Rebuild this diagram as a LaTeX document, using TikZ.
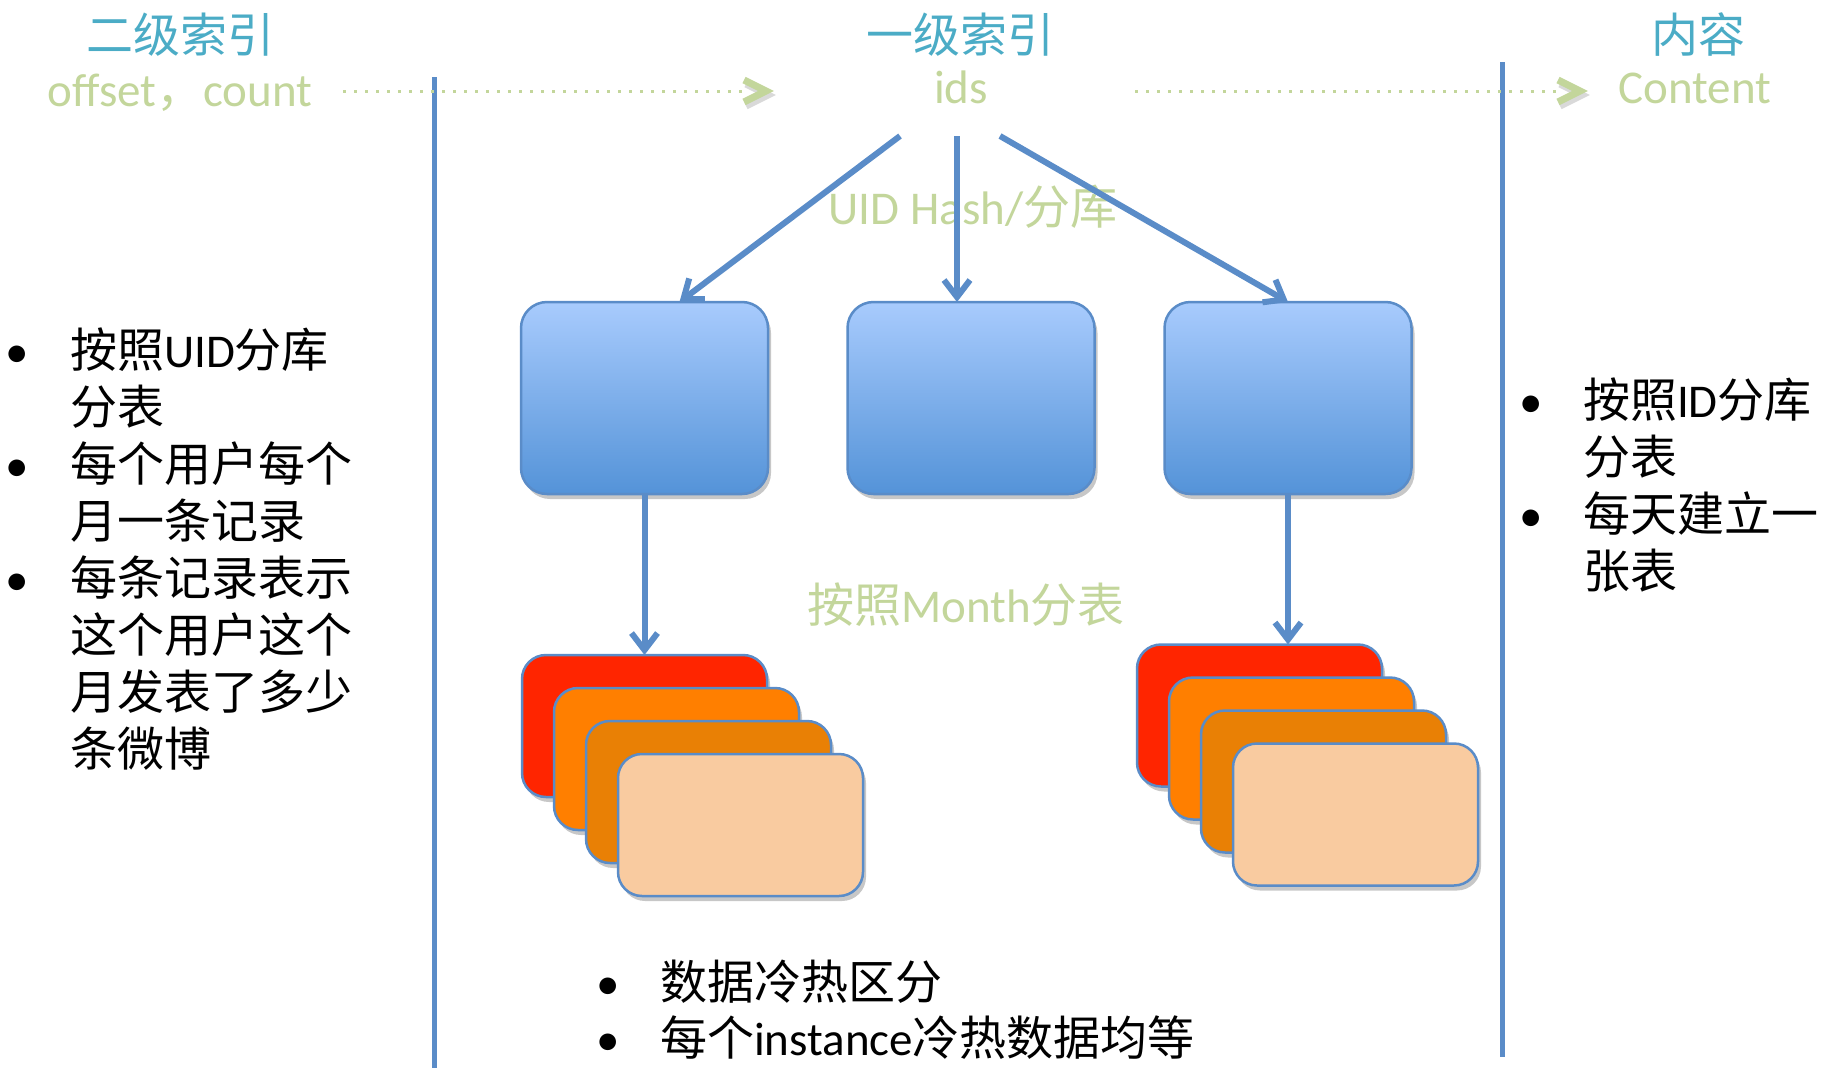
\documentclass[tikz,border=0pt]{standalone}
\usepackage{fontspec}
\setmainfont{Carlito}
\newfontfamily\cjk{Noto Sans CJK SC}
\usetikzlibrary{arrows.meta,shadows,calc}

\definecolor{titlecyan}{HTML}{4BACC6}
\definecolor{labelgreen}{HTML}{C3D69B}
\definecolor{linkblue}{HTML}{5A8CC8}
\definecolor{boxtop}{HTML}{A8CBFD}
\definecolor{boxbottom}{HTML}{5493D8}
\definecolor{hotred}{HTML}{FF2500}
\definecolor{warmorange}{HTML}{FF7F00}
\definecolor{deeporange}{HTML}{E98005}
\definecolor{peach}{HTML}{F9CBA0}

\newcommand{\zh}[1]{{\cjk #1}}

\begin{document}
\begin{tikzpicture}[x=1pt,y=-1pt,
  every node/.style={inner sep=0pt, outer sep=0pt, font=\fontsize{47pt}{57pt}\selectfont},
  title/.style={text=titlecyan, anchor=base},
  keyword/.style={text=labelgreen, anchor=base},
  bodyline/.style={text=black, anchor=base west},
  dotmark/.style={text=black, anchor=base},
  softshadow/.style={drop shadow={shadow xshift=3pt, shadow yshift=-5pt, opacity=0.22, fill=black}},
  shardbox/.style={rectangle, rounded corners=26pt, draw=linkblue, line width=2.5pt,
    top color=boxtop, bottom color=boxbottom, minimum width=247pt, minimum height=192pt, softshadow},
  monthbox/.style={rectangle, rounded corners=24pt, draw=linkblue, line width=2.5pt,
    minimum width=245pt, minimum height=142pt, softshadow},
  link/.style={draw=linkblue, line width=6pt, -{Straight Barb[length=17pt,width=26pt]}},
  hint/.style={draw=labelgreen, line width=3pt, dash pattern=on 3pt off 8pt},
  chevron/.style={draw=labelgreen, line width=7pt},
  chevronshade/.style={draw=black, opacity=0.15, line width=7pt},
  divider/.style={draw=linkblue, line width=5pt}
]
\useasboundingbox (0,0) rectangle (1825,1068);
\fill[white] (0,0) rectangle (1825,1068);

% column dividers
\draw[divider] (434,77) -- (434,1068);
\draw[divider] (1502,62) -- (1502,1057);

% column headings
\node[title] (t2) at (180,52) {\zh{二级索引}};
\node[keyword] (k2) at (180,106) {offset\zh{，}count};
\node[title] (t1) at (960,52) {\zh{一级索引}};
\node[keyword] (k1) at (961,103) {ids};
\node[title] (t0) at (1698,52) {\zh{内容}};
\node[keyword] (k0) at (1695,103) {Content};

% dotted lookup hints between columns
\coordinate (d1s) at (343,91);
\coordinate (d1e) at (766,91);
\coordinate (d2s) at (1135,91);
\coordinate (d2e) at (1580,91);
\draw[hint] (d1s) -- ($(d1e)+(-24,0)$);
\draw[hint] (d2s) -- ($(d2e)+(-24,0)$);
\draw[chevronshade] ($(d1e)+(-20,-7)$) -- ($(d1e)+(2,4)$) -- ($(d1e)+(-20,15)$);
\draw[chevronshade] ($(d2e)+(-20,-7)$) -- ($(d2e)+(2,4)$) -- ($(d2e)+(-20,15)$);
\draw[chevron] ($(d1e)+(-22,-11)$) -- (d1e) -- ($(d1e)+(-22,11)$);
\draw[chevron] ($(d2e)+(-22,-11)$) -- (d2e) -- ($(d2e)+(-22,11)$);

% middle labels
\node[keyword] (hashlbl) at (973,224) {UID Hash/\zh{分库}};
\node[keyword] (monthlbl) at (966,622) {\zh{按照}Month\zh{分表}};

% shard boxes
\node[shardbox] (b1) at (644.5,398) {};
\node[shardbox] (b2) at (971,398) {};
\node[shardbox] (b3) at (1288,398) {};

% monthly tables, left stack
\node[monthbox, fill=hotred]     (r1) at (644.5,726) {};
\node[monthbox, fill=warmorange] (o1) at (676.5,759) {};
\node[monthbox, fill=deeporange] (d1) at (708.5,792) {};
\node[monthbox, fill=peach]      (p1) at (740.5,825) {};

% monthly tables, right stack
\node[monthbox, fill=hotred]     (r2) at (1259.5,715.5) {};
\node[monthbox, fill=warmorange] (o2) at (1291.5,748.5) {};
\node[monthbox, fill=deeporange] (d2) at (1323.5,781.5) {};
\node[monthbox, fill=peach]      (p2) at (1355.5,814.5) {};

% routing arrows
\coordinate (fanL) at (900,136);
\coordinate (fanM) at (957,136);
\coordinate (fanR) at (1000,136);
\draw[link] (fanL) -- ([xshift=35pt]b1.north);
\draw[link] (fanM) -- (fanM |- b2.north);
\draw[link] (fanR) -- (b3.north);
\draw[link] (b1.south) -- (r1.north);
\draw[link] (b3.south) -- (b3.south |- r2.north);

% left notes
\node[dotmark] (lb1) at (17.5,367) {•};
\node[bodyline] (l1) at (70,367) {\zh{按照}UID\zh{分库}};
\node[bodyline] (l2) at (70,424) {\zh{分表}};
\node[dotmark] (lb2) at (17.5,481) {•};
\node[bodyline] (l3) at (70,481) {\zh{每个用户每个}};
\node[bodyline] (l4) at (70,538) {\zh{月一条记录}};
\node[dotmark] (lb3) at (17.5,595) {•};
\node[bodyline] (l5) at (70,595) {\zh{每条记录表示}};
\node[bodyline] (l6) at (70,652) {\zh{这个用户这个}};
\node[bodyline] (l7) at (70,709) {\zh{月发表了多少}};
\node[bodyline] (l8) at (70,766) {\zh{条微博}};

% right notes
\node[dotmark] (rb1) at (1531,417) {•};
\node[bodyline] (q1) at (1583,417) {\zh{按照}ID\zh{分库}};
\node[bodyline] (q2) at (1583,474) {\zh{分表}};
\node[dotmark] (rb2) at (1531,531) {•};
\node[bodyline] (q3) at (1583,531) {\zh{每天建立一}};
\node[bodyline] (q4) at (1583,588) {\zh{张表}};

% bottom notes
\node[dotmark] (bb1) at (608,999) {•};
\node[bodyline] (m1) at (660,999) {\zh{数据冷热区分}};
\node[dotmark] (bb2) at (608,1055) {•};
\node[bodyline] (m2) at (660,1055) {\zh{每个}instance\zh{冷热数据均等}};
\end{tikzpicture}
\end{document}
